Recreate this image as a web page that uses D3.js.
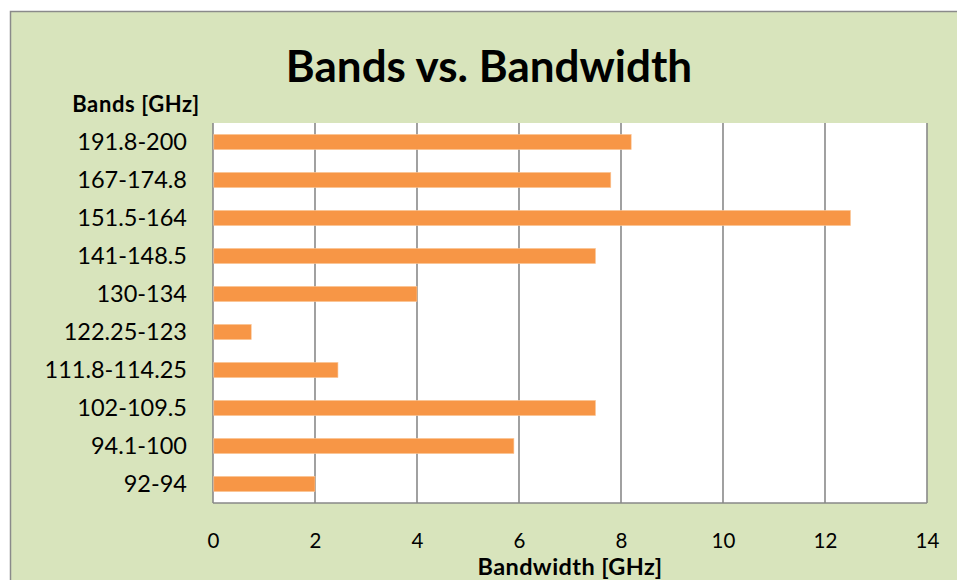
<!DOCTYPE html>
<html><head><meta charset="utf-8">
<script src="https://cdn.jsdelivr.net/npm/d3@7"></script>
<style>body{margin:0;background:#fff;}svg{display:block;}text{font-family:Lato,"Open Sans",sans-serif;}</style>
</head><body>
<svg id="c" width="957" height="580"></svg>
<script>
const categories = ["191.8-200","167-174.8","151.5-164","141-148.5","130-134","122.25-123","111.8-114.25","102-109.5","94.1-100","92-94"];
const bandwidth = [8.2,7.8,12.5,7.5,4,0.75,2.45,7.5,5.9,2];
const xTicks = [0,2,4,6,8,10,12,14];
const title = "Bands vs. Bandwidth";
const yTitle = "Bands [GHz]";
const xTitle = "Bandwidth [GHz]";

const svg = d3.select("#c");
svg.append("rect").attr("x",10.5).attr("y",11.5).attr("width",1000).attr("height",1000)
  .attr("fill","#d8e4bc").attr("stroke","#8a8a8a").attr("stroke-width",1.5);

const m = {l:213, t:123, r:927, b:503};
const x = d3.scaleLinear().domain([0,14]).range([m.l,m.r]);
const y = d3.scaleBand().domain(categories).range([m.t,m.b]).paddingInner(0.6).paddingOuter(0.3);

svg.append("rect").attr("x",m.l).attr("y",m.t).attr("width",m.r-m.l).attr("height",m.b-m.t).attr("fill","#fff");

svg.append("g").selectAll("line").data(xTicks).join("line")
  .attr("x1",d=>x(d)).attr("x2",d=>x(d)).attr("y1",m.t).attr("y2",m.b)
  .attr("stroke","#898989").attr("stroke-width",1.6);
svg.append("line").attr("x1",m.l).attr("x2",m.r).attr("y1",m.b).attr("y2",m.b)
  .attr("stroke","#898989").attr("stroke-width",1.6);

svg.append("g").selectAll("rect").data(categories).join("rect")
  .attr("x",m.l+0.8).attr("y",d=>y(d)).attr("height",y.bandwidth())
  .attr("width",(d,i)=>x(bandwidth[i])-m.l-0.8)
  .attr("fill","#f79646").attr("stroke","#fbc89c").attr("stroke-width",0.6);

const yAxis = d3.axisLeft(y).tickSize(0).tickPadding(26);
const gy = svg.append("g").attr("transform",`translate(${m.l},0)`).call(yAxis);
gy.select(".domain").remove();
gy.selectAll("text").attr("font-size",23.5).attr("fill","#000").style("font-family","Lato,'Open Sans',sans-serif");

const xAxis = d3.axisBottom(x).tickValues(xTicks).tickSize(0).tickPadding(30);
const gx = svg.append("g").attr("transform",`translate(0,${m.b})`).call(xAxis);
gx.select(".domain").remove();
gx.selectAll("text").attr("font-size",20.5).attr("fill","#000").style("font-family","Lato,'Open Sans',sans-serif");

svg.append("text").attr("x",489).attr("y",82).attr("text-anchor","middle")
  .attr("font-size",44).attr("font-weight","bold").text(title);
svg.append("text").attr("x",136).attr("y",112).attr("text-anchor","middle")
  .attr("font-size",22).attr("font-weight","bold").attr("letter-spacing",0.6).text(yTitle);
svg.append("text").attr("x",570).attr("y",575).attr("text-anchor","middle")
  .attr("font-size",23.5).attr("font-weight","bold").attr("letter-spacing",0.4).text(xTitle);
</script>
</body></html>
